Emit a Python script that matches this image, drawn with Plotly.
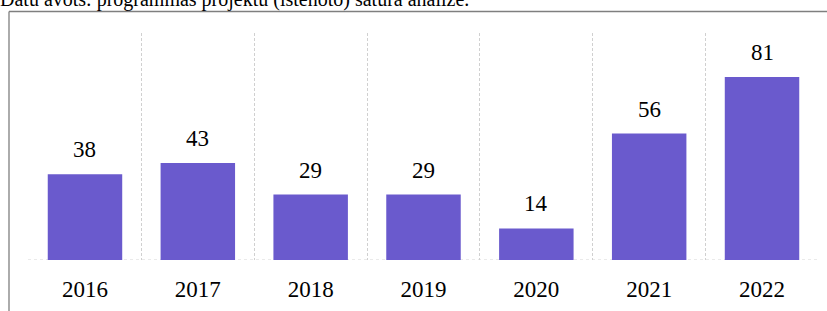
import plotly.graph_objects as go

years = ["2016", "2017", "2018", "2019", "2020", "2021", "2022"]
values = [38, 43, 29, 29, 14, 56, 81]
source_text = "Datu avots: programmas projektu (īstenoto) satura analīze."

FONT = "Liberation Serif"
idx = list(range(len(years)))

fig = go.Figure()
fig.add_trace(go.Bar(
    x=idx, y=values,
    marker=dict(color="#6a5acd", line=dict(width=0)),
    width=0.66,
    hoverinfo="skip",
))

for i, v in zip(idx, values):
    fig.add_annotation(x=i, y=v, text=str(v), showarrow=False,
                       xref="x", yref="y", yanchor="bottom", yshift=10,
                       font=dict(family=FONT, size=23, color="#000"))

# source line (partly cut at top)
fig.add_annotation(x=0, y=1, xref="paper", yref="paper", xanchor="left", yanchor="bottom",
                   xshift=-30, yshift=20, text=source_text, showarrow=False,
                   font=dict(family=FONT, size=20, color="#000"))

# frame lines (top and left)
ytop = 1 + 21.5 / 227
xleft = -19 / 791
fig.add_shape(type="line", xref="paper", yref="paper", x0=xleft, x1=1.02, y0=ytop, y1=ytop,
              line=dict(color="#7f7f7f", width=1.3))
fig.add_shape(type="line", xref="paper", yref="paper", x0=xleft, x1=xleft, y0=ytop, y1=-0.3,
              line=dict(color="#7f7f7f", width=1.3))
# dotted baseline
fig.add_shape(type="line", xref="paper", yref="y", x0=0, x1=1, y0=0, y1=0,
              line=dict(color="#d4d4d4", width=1, dash="dot"), layer="below")

fig.update_layout(
    width=827, height=311,
    margin=dict(l=28, r=8, t=33, b=51, autoexpand=False),
    paper_bgcolor="white", plot_bgcolor="white",
    showlegend=False,
    xaxis=dict(range=[-0.505, len(years) - 0.495], tickmode="array", tickvals=idx, ticktext=years,
               showgrid=False, ticks="", showline=False,
               tickfont=dict(family=FONT, size=23, color="#000"), ticklabelstandoff=13,
               zeroline=False, tickangle=0,
               minor=dict(tickmode="array", tickvals=[i - 0.5 for i in range(len(years) + 1)],
                          showgrid=True, griddash="3px,2px", gridcolor="#d0d0d0", gridwidth=1,
                          ticks="")),
    yaxis=dict(range=[0, 100.5], showgrid=False, showticklabels=False, zeroline=False,
               showline=False),
)

fig.write_html("out.html", config={"displayModeBar": False},
               post_script="document.body.style.margin='0';")
